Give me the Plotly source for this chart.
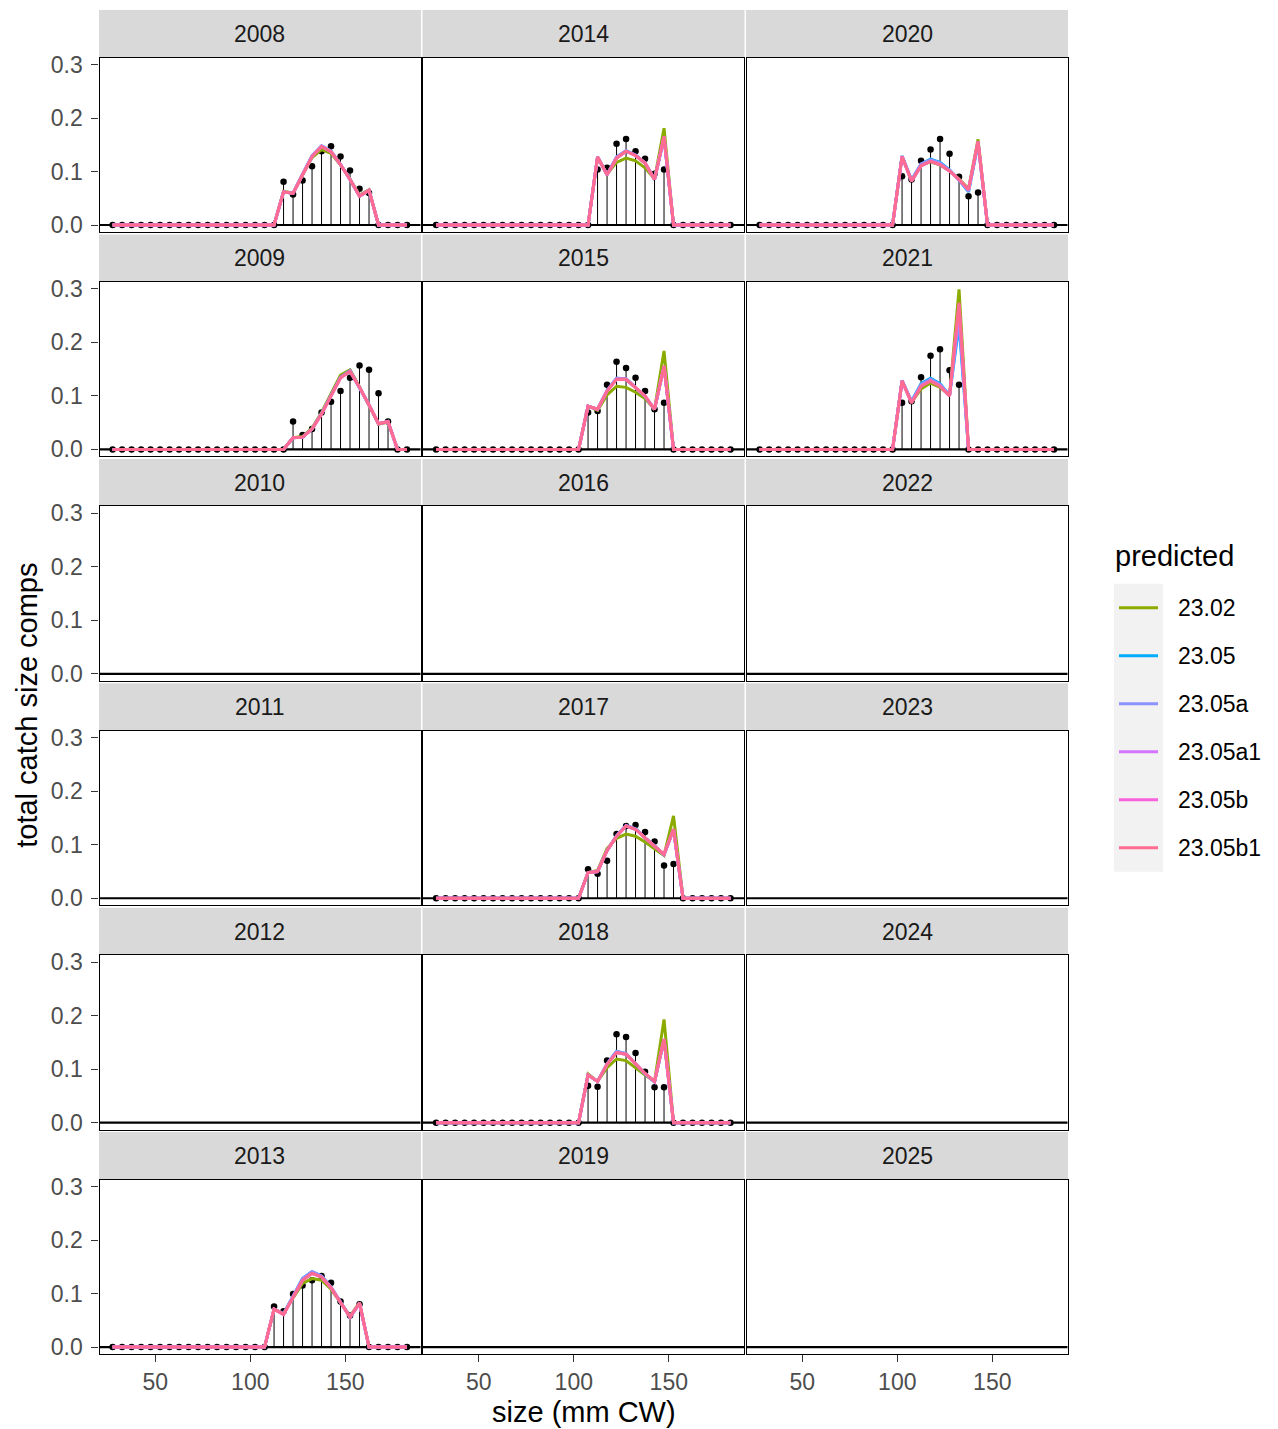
import plotly.graph_objects as go

# the page body keeps its default 8px margin; the figure is made tall enough to reach the
# bottom of the photographed area
OFF = 8
W, H = 1262, 1428

# size bins (mm CW, bin midpoints)
size_bins = [27.5, 32.5, 37.5, 42.5, 47.5, 52.5, 57.5, 62.5, 67.5, 72.5,
             77.5, 82.5, 87.5, 92.5, 97.5, 102.5, 107.5, 112.5, 117.5, 122.5,
             127.5, 132.5, 137.5, 142.5, 147.5, 152.5, 157.5, 162.5, 167.5, 172.5,
             177.5, 182.5]

# facet layout, filled column by column
col_years = [
    [2008, 2009, 2010, 2011, 2012, 2013],
    [2014, 2015, 2016, 2017, 2018, 2019],
    [2020, 2021, 2022, 2023, 2024, 2025],
]

models = ["23.02", "23.05", "23.05a", "23.05a1", "23.05b", "23.05b1"]
model_colors = ["#8CAB00", "#00ACFC", "#8B93FF", "#D575FE", "#F962DD", "#FF6C91"]

# first non-zero size bin of each year with data
first_bin = {2008: 117.5, 2009: 122.5, 2013: 112.5, 2014: 112.5, 2015: 107.5,
             2017: 107.5, 2018: 107.5, 2020: 102.5, 2021: 102.5}

# observed comps (non-zero part)
obs_2008 = [0.081, 0.057, 0.083, 0.110, 0.138, 0.147, 0.128, 0.102, 0.068, 0.060]
obs_2009 = [0.052, 0.027, 0.038, 0.069, 0.089, 0.109, 0.134, 0.157, 0.149, 0.105, 0.052]
obs_2013 = [0.076, 0.067, 0.099, 0.115, 0.125, 0.133, 0.120, 0.085, 0.059, 0.080]
obs_2014 = [0.104, 0.107, 0.152, 0.161, 0.138, 0.124, 0.096, 0.104]
obs_2015 = [0.069, 0.072, 0.121, 0.164, 0.152, 0.134, 0.109, 0.075, 0.087]
obs_2017 = [0.054, 0.046, 0.070, 0.120, 0.135, 0.137, 0.124, 0.106, 0.061, 0.064]
obs_2018 = [0.069, 0.067, 0.116, 0.165, 0.160, 0.130, 0.095, 0.066, 0.066]
obs_2020 = [0.091, 0.085, 0.120, 0.141, 0.161, 0.133, 0.090, 0.054, 0.061]
obs_2021 = [0.087, 0.090, 0.135, 0.175, 0.187, 0.148, 0.121]

# predicted comps per model (non-zero part)
pred_2008 = {
    "23.02":   [0.063, 0.060, 0.093, 0.126, 0.141, 0.134, 0.112, 0.086, 0.056, 0.066],
    "23.05":   [0.062, 0.059, 0.095, 0.129, 0.148, 0.138, 0.113, 0.085, 0.054, 0.065],
    "23.05a":  [0.062, 0.059, 0.095, 0.129, 0.148, 0.138, 0.113, 0.085, 0.054, 0.065],
    "23.05a1": [0.062, 0.059, 0.094, 0.128, 0.147, 0.137, 0.113, 0.085, 0.054, 0.065],
    "23.05b":  [0.062, 0.059, 0.094, 0.128, 0.147, 0.137, 0.113, 0.085, 0.054, 0.065],
    "23.05b1": [0.062, 0.059, 0.094, 0.128, 0.147, 0.137, 0.113, 0.085, 0.054, 0.065],
}
pred_2009 = {
    "23.02":   [0.022, 0.024, 0.040, 0.069, 0.104, 0.139, 0.149, 0.117, 0.082, 0.047, 0.051],
    "23.05":   [0.022, 0.023, 0.038, 0.067, 0.101, 0.135, 0.147, 0.116, 0.083, 0.048, 0.052],
    "23.05a":  [0.022, 0.023, 0.038, 0.067, 0.101, 0.135, 0.147, 0.116, 0.083, 0.048, 0.052],
    "23.05a1": [0.022, 0.023, 0.038, 0.066, 0.100, 0.134, 0.146, 0.116, 0.083, 0.048, 0.052],
    "23.05b":  [0.022, 0.023, 0.038, 0.066, 0.100, 0.134, 0.146, 0.116, 0.083, 0.048, 0.052],
    "23.05b1": [0.022, 0.023, 0.038, 0.066, 0.100, 0.134, 0.146, 0.116, 0.083, 0.048, 0.052],
}
pred_2013 = {
    "23.02":   [0.070, 0.063, 0.092, 0.119, 0.128, 0.125, 0.108, 0.082, 0.058, 0.083],
    "23.05":   [0.071, 0.062, 0.095, 0.128, 0.141, 0.133, 0.112, 0.083, 0.056, 0.081],
    "23.05a":  [0.071, 0.062, 0.095, 0.128, 0.141, 0.133, 0.112, 0.083, 0.056, 0.081],
    "23.05a1": [0.071, 0.061, 0.093, 0.125, 0.138, 0.131, 0.111, 0.083, 0.056, 0.082],
    "23.05b":  [0.071, 0.061, 0.093, 0.125, 0.138, 0.131, 0.111, 0.083, 0.056, 0.082],
    "23.05b1": [0.071, 0.061, 0.093, 0.125, 0.138, 0.131, 0.111, 0.083, 0.056, 0.082],
}
pred_2014 = {
    "23.02":   [0.127, 0.095, 0.117, 0.125, 0.120, 0.107, 0.086, 0.181],
    "23.05":   [0.127, 0.094, 0.127, 0.139, 0.131, 0.116, 0.085, 0.163],
    "23.05a":  [0.127, 0.094, 0.127, 0.139, 0.131, 0.116, 0.085, 0.163],
    "23.05a1": [0.127, 0.094, 0.125, 0.138, 0.130, 0.116, 0.085, 0.165],
    "23.05b":  [0.127, 0.094, 0.125, 0.138, 0.130, 0.116, 0.085, 0.165],
    "23.05b1": [0.127, 0.094, 0.125, 0.138, 0.130, 0.116, 0.085, 0.165],
}
pred_2015 = {
    "23.02":   [0.081, 0.073, 0.102, 0.118, 0.116, 0.107, 0.095, 0.075, 0.184],
    "23.05":   [0.081, 0.075, 0.110, 0.133, 0.132, 0.115, 0.099, 0.075, 0.155],
    "23.05a":  [0.081, 0.075, 0.110, 0.133, 0.132, 0.115, 0.099, 0.075, 0.155],
    "23.05a1": [0.081, 0.075, 0.109, 0.131, 0.131, 0.115, 0.100, 0.075, 0.156],
    "23.05b":  [0.081, 0.075, 0.109, 0.131, 0.131, 0.115, 0.100, 0.075, 0.156],
    "23.05b1": [0.081, 0.075, 0.109, 0.131, 0.131, 0.115, 0.100, 0.075, 0.156],
}
pred_2017 = {
    "23.02":   [0.048, 0.052, 0.093, 0.112, 0.120, 0.116, 0.105, 0.093, 0.080, 0.154],
    "23.05":   [0.048, 0.050, 0.089, 0.117, 0.136, 0.130, 0.113, 0.098, 0.081, 0.128],
    "23.05a":  [0.048, 0.050, 0.089, 0.117, 0.136, 0.130, 0.113, 0.098, 0.081, 0.128],
    "23.05a1": [0.048, 0.050, 0.089, 0.116, 0.135, 0.129, 0.113, 0.098, 0.082, 0.129],
    "23.05b":  [0.048, 0.050, 0.089, 0.116, 0.135, 0.129, 0.113, 0.098, 0.082, 0.129],
    "23.05b1": [0.048, 0.050, 0.089, 0.116, 0.135, 0.129, 0.113, 0.098, 0.082, 0.129],
}
pred_2018 = {
    "23.02":   [0.091, 0.077, 0.103, 0.119, 0.116, 0.102, 0.089, 0.077, 0.193],
    "23.05":   [0.089, 0.077, 0.110, 0.133, 0.129, 0.109, 0.091, 0.076, 0.155],
    "23.05a":  [0.089, 0.077, 0.110, 0.133, 0.129, 0.109, 0.091, 0.076, 0.155],
    "23.05a1": [0.089, 0.077, 0.109, 0.131, 0.128, 0.109, 0.092, 0.077, 0.156],
    "23.05b":  [0.089, 0.077, 0.109, 0.131, 0.128, 0.109, 0.092, 0.077, 0.156],
    "23.05b1": [0.089, 0.077, 0.109, 0.131, 0.128, 0.109, 0.092, 0.077, 0.156],
}
pred_2020 = {
    "23.02":   [0.128, 0.083, 0.112, 0.118, 0.112, 0.101, 0.086, 0.068, 0.160],
    "23.05":   [0.129, 0.084, 0.114, 0.123, 0.117, 0.103, 0.084, 0.062, 0.152],
    "23.05a":  [0.129, 0.084, 0.114, 0.122, 0.116, 0.102, 0.084, 0.063, 0.153],
    "23.05a1": [0.128, 0.082, 0.111, 0.119, 0.113, 0.101, 0.085, 0.066, 0.156],
    "23.05b":  [0.128, 0.082, 0.111, 0.119, 0.113, 0.101, 0.085, 0.066, 0.156],
    "23.05b1": [0.128, 0.082, 0.111, 0.119, 0.113, 0.101, 0.085, 0.066, 0.156],
}
pred_2021 = {
    "23.02":   [0.128, 0.088, 0.113, 0.124, 0.116, 0.101, 0.299],
    "23.05":   [0.129, 0.090, 0.123, 0.133, 0.123, 0.101, 0.233],
    "23.05a":  [0.128, 0.089, 0.121, 0.131, 0.121, 0.101, 0.245],
    "23.05a1": [0.128, 0.088, 0.119, 0.129, 0.119, 0.100, 0.262],
    "23.05b":  [0.128, 0.087, 0.118, 0.128, 0.118, 0.100, 0.270],
    "23.05b1": [0.128, 0.087, 0.118, 0.128, 0.118, 0.100, 0.274],
}

observed = {2008: obs_2008, 2009: obs_2009, 2013: obs_2013, 2014: obs_2014, 2015: obs_2015,
            2017: obs_2017, 2018: obs_2018, 2020: obs_2020, 2021: obs_2021}
predicted = {2008: pred_2008, 2009: pred_2009, 2013: pred_2013, 2014: pred_2014, 2015: pred_2015,
             2017: pred_2017, 2018: pred_2018, 2020: pred_2020, 2021: pred_2021}


def padded(year, vals):
    # put the non-zero part in place, zero elsewhere
    i0 = size_bins.index(first_bin[year])
    return [0.0] * i0 + vals + [0.0] * (len(size_bins) - i0 - len(vals))


# target picture pixel -> paper coordinate
# (the photographed page comes out slightly squashed vertically, so undo that here)
def px_x(px):
    return (px - OFF) / W


def px_y(py):
    page_y = (py - 5.0) / 0.992
    return 1 - (page_y - OFF) / H


FONT = "Liberation Sans, Arial, sans-serif"
X_RANGE = [20.6, 189.6]
Y_RANGE = [-0.013, 0.313]

fig = go.Figure()
shapes = []
annotations = []

for c, years in enumerate(col_years):
    for r, year in enumerate(years):
        n = r * 3 + c + 1
        xa = "x" if n == 1 else f"x{n}"
        ya = "y" if n == 1 else f"y{n}"

        left = 99.5 + 323.5 * c
        right = 420.5 + 323.5 * c
        top = 56.5 + 224.5 * r
        bottom = 231 + 224.5 * r

        bottom_row = r == 5
        left_col = c == 0
        fig.layout[f"xaxis{'' if n == 1 else n}"] = dict(
            domain=[px_x(left), px_x(right)], anchor=ya, range=X_RANGE,
            showgrid=False, zeroline=False, showline=True, mirror=True,
            linecolor="black", linewidth=1.3,
            tickvals=[50, 100, 150], showticklabels=bottom_row,
            ticks="outside" if bottom_row else "", ticklen=7, tickwidth=1.3, tickcolor="#333333",
            tickfont=dict(family=FONT, size=23, color="#4D4D4D"),
        )
        fig.layout[f"yaxis{'' if n == 1 else n}"] = dict(
            domain=[px_y(bottom), px_y(top)], anchor=xa, range=Y_RANGE,
            showgrid=False, zeroline=False, showline=True, mirror=True,
            linecolor="black", linewidth=1.3,
            tickvals=[0, 0.1, 0.2, 0.3], ticktext=["0.0", "0.1", "0.2", "0.3"],
            showticklabels=left_col, ticklabelstandoff=4,
            ticks="outside" if left_col else "", ticklen=7, tickwidth=1.3, tickcolor="#333333",
            tickfont=dict(family=FONT, size=23, color="#4D4D4D"),
        )

        # strip
        shapes.append(dict(type="rect", xref="paper", yref="paper",
                           x0=px_x(left - 0.5), x1=px_x(right + 0.5),
                           y0=px_y(56 + 224.5 * r), y1=px_y(9 + 224.5 * r),
                           fillcolor="#D9D9D9", line=dict(width=0), layer="below"))
        annotations.append(dict(x=px_x((left + right) / 2), y=px_y(33 + 224.5 * r),
                                xref="paper", yref="paper", text=str(year), showarrow=False,
                                xanchor="center", yanchor="middle",
                                font=dict(family=FONT, size=23, color="#1A1A1A")))

        # zero line across the panel
        shapes.append(dict(type="line", xref=f"{xa} domain", yref=ya, x0=0, x1=1, y0=0, y1=0,
                           line=dict(color="black", width=2.2), layer="below"))

        if year not in observed:
            continue

        obs = padded(year, observed[year])
        sx, sy = [], []
        for s, v in zip(size_bins, obs):
            if v > 0:
                sx += [s, s, None]
                sy += [0, v, None]
        fig.add_trace(go.Scatter(x=sx, y=sy, mode="lines", xaxis=xa, yaxis=ya,
                                 line=dict(color="black", width=1), showlegend=False,
                                 hoverinfo="skip"))
        fig.add_trace(go.Scatter(x=size_bins, y=obs, mode="markers", xaxis=xa, yaxis=ya,
                                 marker=dict(color="black", size=6.5), showlegend=False))
        for m, col in zip(models, model_colors):
            fig.add_trace(go.Scatter(x=size_bins, y=padded(year, predicted[year][m]),
                                     mode="lines", xaxis=xa, yaxis=ya, name=m,
                                     line=dict(color=col, width=3), showlegend=False))

# axis titles
annotations.append(dict(x=px_x(583.5), y=px_y(1412), xref="paper", yref="paper",
                        text="size (mm CW)", showarrow=False, xanchor="center", yanchor="middle",
                        font=dict(family=FONT, size=29, color="black")))
annotations.append(dict(x=px_x(27), y=px_y(705), xref="paper", yref="paper",
                        text="total catch size comps", showarrow=False, textangle=-90,
                        xanchor="center", yanchor="middle",
                        font=dict(family=FONT, size=29, color="black")))

# legend, drawn by hand to match the ggplot key layout
annotations.append(dict(x=px_x(1113), y=px_y(555), xref="paper", yref="paper",
                        text="predicted", showarrow=False, xanchor="left", yanchor="middle",
                        font=dict(family=FONT, size=29, color="black")))
shapes.append(dict(type="rect", xref="paper", yref="paper",
                   x0=px_x(1114), x1=px_x(1163), y0=px_y(871), y1=px_y(583),
                   fillcolor="#F2F2F2", line=dict(width=0)))
for i, (m, col) in enumerate(zip(models, model_colors)):
    ky = 607 + 48 * i
    shapes.append(dict(type="line", xref="paper", yref="paper",
                       x0=px_x(1119), x1=px_x(1158), y0=px_y(ky), y1=px_y(ky),
                       line=dict(color=col, width=3)))
    annotations.append(dict(x=px_x(1176), y=px_y(ky), xref="paper", yref="paper",
                            text=m, showarrow=False, xanchor="left", yanchor="middle",
                            font=dict(family=FONT, size=23, color="black")))

fig.update_layout(
    width=W, height=H,
    margin=dict(l=0, r=0, t=0, b=0),
    paper_bgcolor="white", plot_bgcolor="white",
    shapes=shapes, annotations=annotations,
    showlegend=False,
)

fig.write_html("out.html")
